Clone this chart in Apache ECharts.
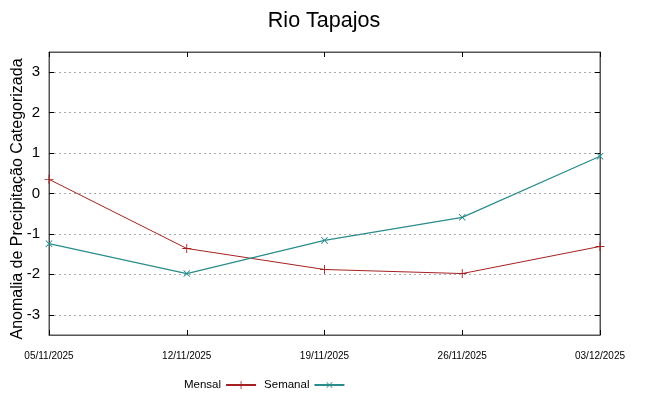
<!DOCTYPE html>
<html><head><meta charset="utf-8">
<script src="https://cdn.jsdelivr.net/npm/echarts@6/dist/echarts.min.js"></script>
<style>html,body{margin:0;padding:0;background:#fff}#c{width:648px;height:396px}</style>
</head><body><div id="c"></div>
<script>
const categories = ['05/11/2025','12/11/2025','19/11/2025','26/11/2025','03/12/2025'];
const mensal = [0.35, -1.36, -1.88, -1.98, -1.31];
const semanal = [-1.24, -1.98, -1.16, -0.59, 0.92];
const yTicks = [-3, -2, -1, 0, 1, 2, 3];

const plus = 'path://M4.5,0H5.5V4.5H10V5.5H5.5V10H4.5V5.5H0V4.5H4.5Z';
const font = 'Liberation Sans';
const chart = echarts.init(document.getElementById('c'));
const axisCol = '#555';
chart.setOption({
  animation: false,
  title: {text: 'Rio Tapajos', left: 'center', top: 5,
    textStyle: {fontFamily: font, fontWeight: 'normal', fontSize: 21.5, color: '#000'}},
  grid: {left: 49, right: 48, top: 52, bottom: 61, show: true, borderColor: axisCol, borderWidth: 1,
    outerBoundsMode: 'none', containLabel: false},
  legend: {bottom: 0, left: 179, align: 'right', itemWidth: 30, itemHeight: 10, itemGap: 7,
    textStyle: {fontFamily: font, fontSize: 11.5, color: '#000'},
    data: ['Mensal', 'Semanal']},
  xAxis: [{type: 'category', data: categories, boundaryGap: false,
    axisLine: {onZero: false, lineStyle: {color: axisCol}},
    axisTick: {inside: true, length: 5, lineStyle: {color: '#000'}},
    axisLabel: {fontFamily: font, fontSize: 10, color: '#000', margin: 16,
      showMinLabel: true, showMaxLabel: true, interval: 0},
    splitLine: {show: false}},
   {type: 'category', data: categories, boundaryGap: false, position: 'top',
    axisLine: {onZero: false, lineStyle: {color: axisCol}},
    axisTick: {inside: true, length: 5, lineStyle: {color: '#000'}},
    axisLabel: {show: false}, splitLine: {show: false}}],
  yAxis: [{type: 'value', min: -3.5, max: 3.5,
    name: 'Anomalia de Precipitação Categorizada', nameLocation: 'middle', nameGap: 23,
    nameMoveOverlap: false,
    nameTextStyle: {fontFamily: font, fontSize: 16, color: '#000', padding: [0, 11, 0, 0]},
    axisLine: {show: true, onZero: false, lineStyle: {color: axisCol}},
    axisTick: {show: true, inside: true, length: 5, lineStyle: {color: '#000'},
      customValues: yTicks},
    axisLabel: {fontFamily: font, fontSize: 15, color: '#000', margin: 9, customValues: yTicks},
    splitLine: {show: true, lineStyle: {color: '#aaa', type: [2, 3], width: 1}}},
   {type: 'value', min: -3.5, max: 3.5, position: 'right',
    axisLine: {show: true, onZero: false, lineStyle: {color: axisCol}},
    axisTick: {show: true, inside: true, length: 5, lineStyle: {color: '#000'}, customValues: yTicks},
    axisLabel: {show: false}, splitLine: {show: false}}],
  series: [
    {name: 'Mensal', type: 'line', data: mensal, symbol: plus, symbolSize: 9,
      lineStyle: {color: '#a52020', width: 1}, itemStyle: {color: '#a52020'}},
    {name: 'Semanal', type: 'line', data: semanal, symbol: plus, symbolSize: 9, symbolRotate: 45,
      lineStyle: {color: '#2a8c8c', width: 1.2}, itemStyle: {color: '#2a8c8c'}}
  ]
});
</script></body></html>
